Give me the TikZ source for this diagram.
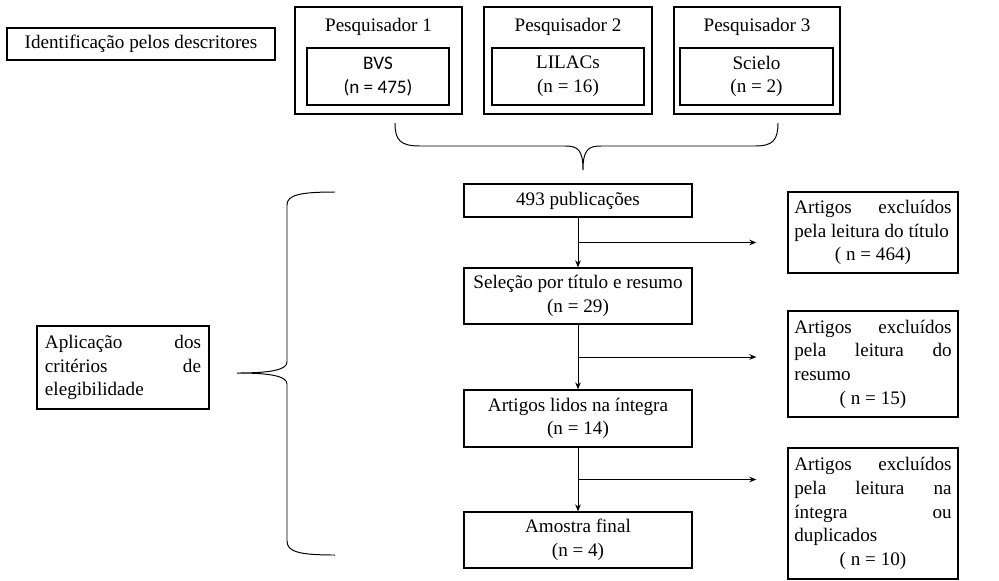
\documentclass[tikz,border=0pt]{standalone}
\usepackage{fontspec}
\setmainfont{Liberation Serif}
\newfontfamily\calfont{Carlito}
\usetikzlibrary{arrows.meta,positioning,calc}

\begin{document}
\begin{tikzpicture}[x=0.025cm,y=-0.025cm,font=\fontsize{13.6}{16.8}\selectfont,>={Stealth[length=5pt,width=4pt]},
  box/.style={draw,line width=0.9pt,inner sep=0pt,align=center},
  outerbox/.style={draw,line width=1.1pt,inner sep=0pt},
  sidebox/.style={draw,line width=0.9pt,inner ysep=0pt,inner xsep=0.16cm,text width=3.93cm,align=justify},
  sansbox/.style={box,font=\calfont\fontsize{13.6}{16.8}\selectfont},
  brace/.style={line width=0.7pt},
  link/.style={->,line width=0.7pt}]
\useasboundingbox (0,0) rectangle (999,580);
\node[box,minimum width=6.7cm,minimum height=0.8cm] (ident) at (141,44) {Identificação pelos descritores};
\node[outerbox,minimum width=4.175cm,minimum height=2.675cm] (pq1) at (378.5,60.5) {};
\node (pq1t) at (378.5,27) {Pesquisador 1};
\node[sansbox,minimum width=3.55cm,minimum height=1.425cm] (bvs) at (378,76.5) {BVS\\(n = 475)};
\node[outerbox,minimum width=4.2cm,minimum height=2.675cm] (pq2) at (568,60.5) {};
\node (pq2t) at (568,27) {Pesquisador 2};
\node[box,minimum width=3.8cm,minimum height=1.425cm] (lil) at (568,76.5) {LILACs\\(n = 16)};
\node[outerbox,minimum width=4.15cm,minimum height=2.675cm] (pq3) at (757,60.5) {};
\node (pq3t) at (757,27) {Pesquisador 3};
\node[box,minimum width=3.825cm,minimum height=1.425cm] (sci) at (756.5,76.5) {Scielo\\(n = 2)};
\draw[brace] (395,123) .. controls (395,140) and (400,146) .. (420,146) -- (565,146)
  .. controls (578,146) and (583,150) .. (583,170) .. controls (583,150) and (588,146) .. (601,146)
  -- (755,146) .. controls (773,146) and (778,140) .. (778,123);
\node[box,minimum width=5.7cm,minimum height=0.825cm] (pub) at (578,200.5) {493 publicações};
\node[box,minimum width=5.7cm,minimum height=1.4cm] (sel) at (578,296) {Seleção por título e resumo\\(n = 29)};
\node[box,minimum width=5.7cm,minimum height=1.425cm] (lid) at (578,418.5) {Artigos lidos na íntegra\\(n = 14)};
\node[box,minimum width=5.7cm,minimum height=1.4cm] (amo) at (578,540) {Amostra final\\(n = 4)};
\node[sidebox,minimum height=2.025cm] (ex1) at (873,232.5) {Artigos excluídos\linebreak pela leitura do título\par\centering ( n = 464)\par};
\node[sidebox,minimum height=2.65cm] (ex2) at (873,364) {Artigos excluídos\linebreak pela leitura do\linebreak resumo\par\centering ( n = 15)\par};
\node[sidebox,minimum height=3.275cm] (ex3) at (873,513.5) {Artigos excluídos\linebreak pela leitura na\linebreak íntegra ou\linebreak duplicados\par\centering ( n = 10)\par};
\node[sidebox,inner xsep=0.2cm,text width=3.9cm,minimum height=2.075cm] (apl) at (123,367.5) {Aplicação dos\linebreak critérios de\linebreak elegibilidade};
\draw[brace] (335,192) .. controls (300,192) and (287,195) .. (287,205) -- (287,362)
  .. controls (287,370) and (270,373) .. (237,373) .. controls (270,373) and (287,376) .. (287,384)
  -- (287,541) .. controls (287,552) and (300,555) .. (335,555);
\draw[link] (pub) -- (sel);
\draw[link] (sel) -- (lid);
\draw[link] (lid) -- (amo);
\coordinate (b1) at ($(pub.south)!.5!(sel.north)$);
\coordinate (b2) at ($(sel.south)!.5!(lid.north)$);
\coordinate (b3) at ($(lid.south)!.5!(amo.north)$);
\coordinate (e1) at ($(b1 -| ex1.west)+(-31,0)$);
\coordinate (e2) at ($(b2 -| ex2.west)+(-31,0)$);
\coordinate (e3) at ($(b3 -| ex3.west)+(-31,0)$);
\draw[link] (b1) -- (e1);
\draw[link] (b2) -- (e2);
\draw[link] (b3) -- (e3);
\end{tikzpicture}
\end{document}
